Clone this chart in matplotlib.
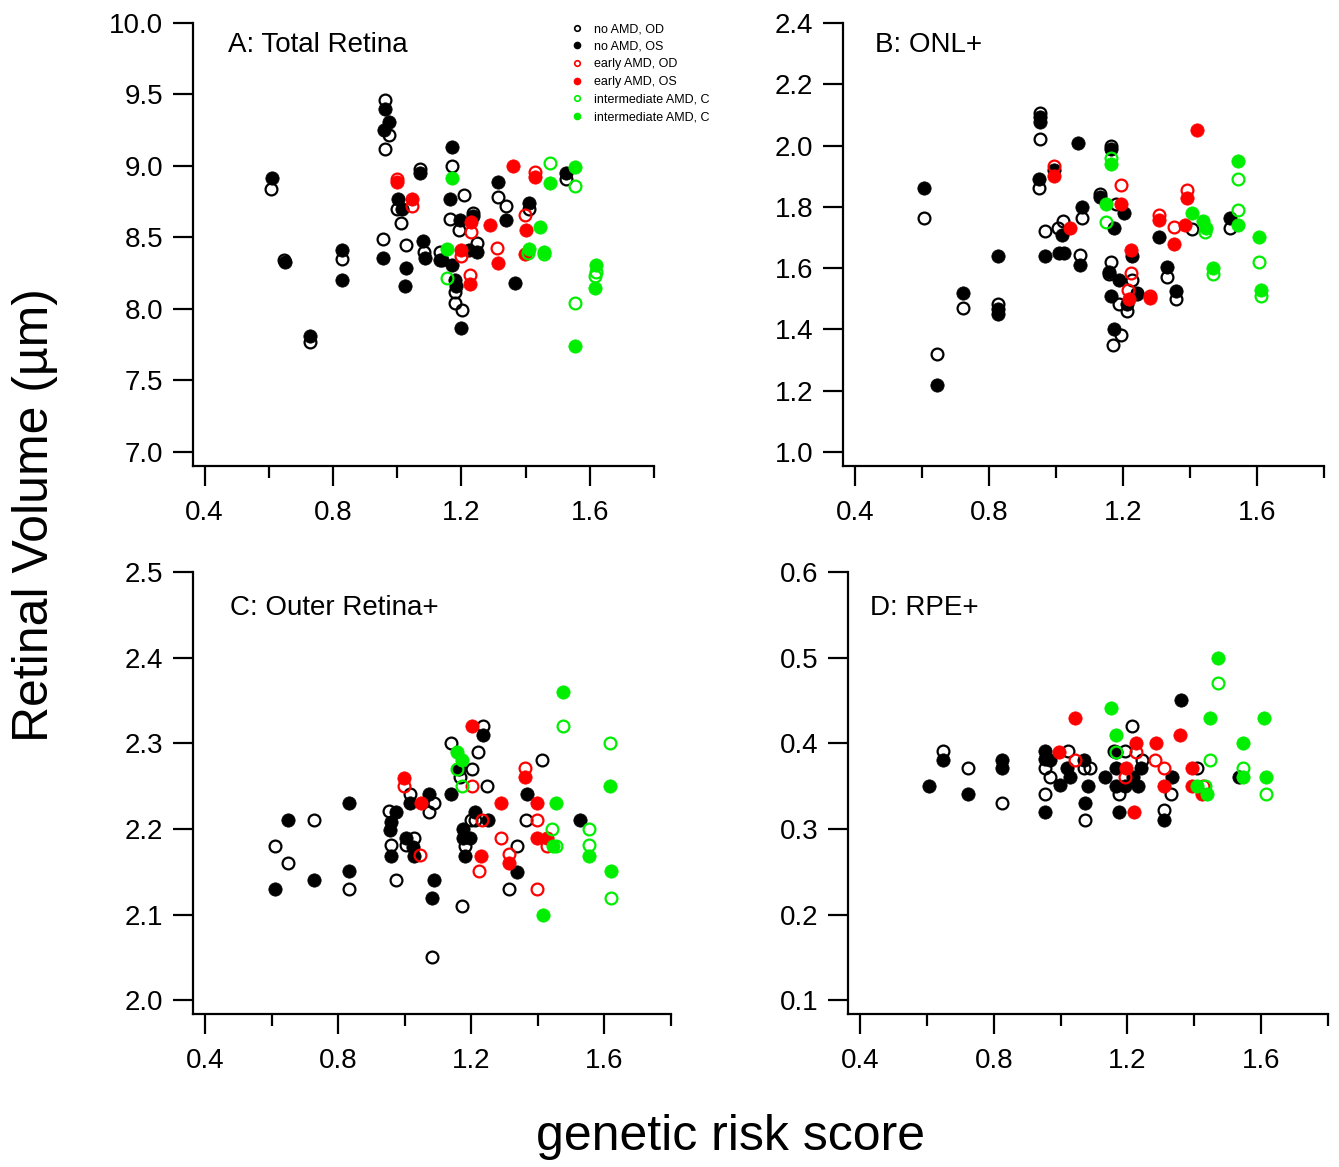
import matplotlib
matplotlib.use('Agg')
from matplotlib import pyplot as plt
from matplotlib.lines import Line2D

plt.rcParams['font.family'] = ['Liberation Sans', 'DejaVu Sans']

# legend labels (as printed, truncated in the original)
LABELS = ['no AMD, OD', 'no AMD, OS', 'early AMD, OD', 'early AMD, OS',
          'intermediate AMD, C', 'intermediate AMD, C']
COLORS = ['black', 'black', '#ff0000', '#ff0000', '#00ee00', '#00ee00']
FILLED = [False, True, False, True, False, True]

# ---- A: Total Retina ----
A_NO_OD_X = [0.961, 0.973, 0.961, 0.608, 1.072, 1.0, 1.013, 0.955, 1.028, 1.083, 1.132, 0.649, 0.829, 0.727,
             1.170, 1.207, 1.165, 1.194, 1.236, 1.314, 1.338, 1.527, 1.412, 1.25, 1.179, 1.179, 1.202]
A_NO_OD_Y = [9.46, 9.22, 9.12, 8.84, 8.98, 8.70, 8.60, 8.49, 8.45, 8.40, 8.40, 8.34, 8.35, 7.77,
             9.0, 8.80, 8.63, 8.55, 8.67, 8.785, 8.72, 8.91, 8.70, 8.46, 8.12, 8.04, 7.99]
A_NO_OS_X = [0.961, 0.973, 0.959, 0.610, 1.072, 1.002, 1.015, 0.955, 1.028, 1.023, 1.080, 1.088, 1.132, 0.650,
             0.829, 0.829, 0.727, 1.170, 1.165, 1.197, 1.236, 1.314, 1.338, 1.527, 1.412, 1.225, 1.25, 1.139,
             1.172, 1.179, 1.182, 1.2, 1.366]
A_NO_OS_Y = [9.40, 9.31, 9.25, 8.914, 8.95, 8.77, 8.70, 8.36, 8.29, 8.16, 8.475, 8.36, 8.34, 8.33,
             8.41, 8.20, 7.81, 9.13, 8.77, 8.62, 8.65, 8.89, 8.62, 8.95, 8.74, 8.41, 8.40, 8.34,
             8.31, 8.20, 8.16, 7.87, 8.18]
A_EARLY_OD_X = [0.998, 1.046, 1.229, 1.428, 1.399, 1.311, 1.2, 1.226]
A_EARLY_OD_Y = [8.907, 8.72, 8.54, 8.96, 8.66, 8.43, 8.37, 8.24]
A_EARLY_OS_X = [0.998, 1.046, 1.231, 1.290, 1.360, 1.428, 1.40, 1.397, 1.314, 1.2, 1.226]
A_EARLY_OS_Y = [8.89, 8.77, 8.61, 8.59, 9.0, 8.92, 8.55, 8.385, 8.32, 8.41, 8.175]
A_INT_OD_X = [1.475, 1.553, 1.407, 1.456, 1.155, 1.618, 1.615, 1.553]
A_INT_OD_Y = [9.02, 8.86, 8.39, 8.385, 8.215, 8.26, 8.23, 8.04]
A_INT_OS_X = [1.170, 1.477, 1.553, 1.444, 1.412, 1.456, 1.155, 1.62, 1.615, 1.553]
A_INT_OS_Y = [8.914, 8.88, 8.99, 8.57, 8.42, 8.40, 8.42, 8.31, 8.15, 7.74]

# ---- B: ONL+ ----
B_NO_OD_X = [0.952, 0.952, 0.95, 0.607, 1.078, 1.022, 1.007, 0.967, 1.072, 0.723, 0.828, 0.646, 1.164, 1.131,
             1.18, 1.405, 1.518, 1.33, 1.358, 1.226, 1.241, 1.213, 1.188, 1.164, 1.159, 1.193, 1.171]
B_NO_OD_Y = [2.105, 2.02, 1.86, 1.762, 1.762, 1.754, 1.732, 1.72, 1.642, 1.47, 1.484, 1.32, 2.0, 1.843,
             1.81, 1.729, 1.73, 1.571, 1.50, 1.56, 1.52, 1.46, 1.484, 1.62, 1.58, 1.38, 1.35]
B_NO_OS_X = [0.952, 0.952, 1.066, 0.994, 0.95, 0.607, 1.078, 1.017, 0.967, 1.01, 1.024, 1.072, 0.828, 0.723,
             0.828, 0.828, 0.646, 1.164, 1.131, 1.203, 1.174, 1.518, 1.307, 1.33, 1.358, 1.228, 1.241, 1.213,
             1.164, 1.159, 1.189, 1.173]
B_NO_OS_Y = [2.094, 2.077, 2.009, 1.92, 1.89, 1.86, 1.80, 1.707, 1.64, 1.65, 1.65, 1.61, 1.64, 1.52,
             1.467, 1.45, 1.22, 1.99, 1.832, 1.78, 1.73, 1.762, 1.70, 1.603, 1.524, 1.64, 1.514, 1.484,
             1.51, 1.587, 1.56, 1.40]
B_EARLY_OD_X = [0.994, 1.193, 1.39, 1.306, 1.352, 1.28, 1.223, 1.216]
B_EARLY_OD_Y = [1.933, 1.87, 1.855, 1.773, 1.734, 1.51, 1.584, 1.527]
B_EARLY_OS_X = [0.994, 1.042, 1.42, 1.193, 1.392, 1.306, 1.385, 1.352, 1.28, 1.223, 1.219]
B_EARLY_OS_Y = [1.90, 1.731, 2.05, 1.808, 1.83, 1.758, 1.74, 1.68, 1.504, 1.66, 1.50]
B_INT_OD_X = [1.164, 1.544, 1.149, 1.445, 1.544, 1.606, 1.611, 1.468]
B_INT_OD_Y = [1.958, 1.89, 1.75, 1.718, 1.79, 1.62, 1.51, 1.58]
B_INT_OS_X = [1.164, 1.544, 1.149, 1.405, 1.438, 1.448, 1.544, 1.606, 1.611, 1.468]
B_INT_OS_Y = [1.94, 1.95, 1.808, 1.78, 1.754, 1.732, 1.74, 1.70, 1.53, 1.60]

# ---- C: Outer Retina+ ----
C_NO_OD_X = [1.016, 1.089, 1.073, 0.953, 1.028, 1.004, 0.959, 0.974, 1.081, 0.832, 0.727, 0.61, 0.648, 1.236,
             1.138, 1.219, 1.201, 1.166, 1.248, 1.413, 1.364, 1.338, 1.313, 1.2, 1.211, 1.181, 1.171]
C_NO_OD_Y = [2.241, 2.23, 2.22, 2.221, 2.19, 2.181, 2.181, 2.14, 2.051, 2.13, 2.21, 2.18, 2.16, 2.32,
             2.30, 2.29, 2.27, 2.261, 2.25, 2.28, 2.21, 2.18, 2.13, 2.21, 2.21, 2.18, 2.11]
C_NO_OS_X = [1.074, 1.016, 0.974, 0.959, 0.956, 1.004, 1.026, 0.959, 1.028, 1.089, 1.081, 0.832, 0.832, 0.65,
             0.61, 0.727, 1.236, 1.164, 1.366, 1.528, 1.338, 1.138, 1.211, 1.251, 1.176, 1.176, 1.196, 1.181]
C_NO_OS_Y = [2.241, 2.23, 2.22, 2.208, 2.199, 2.19, 2.179, 2.169, 2.168, 2.14, 2.12, 2.23, 2.151, 2.21,
             2.13, 2.14, 2.31, 2.27, 2.241, 2.21, 2.15, 2.241, 2.22, 2.21, 2.20, 2.19, 2.19, 2.169]
C_EARLY_OD_X = [0.999, 1.046, 1.201, 1.361, 1.398, 1.428, 1.289, 1.313, 1.398, 1.224, 1.231]
C_EARLY_OD_Y = [2.25, 2.17, 2.25, 2.271, 2.21, 2.18, 2.19, 2.171, 2.13, 2.151, 2.21]
C_EARLY_OS_X = [0.999, 1.048, 1.201, 1.361, 1.289, 1.398, 1.398, 1.428, 1.313, 1.228]
C_EARLY_OS_Y = [2.26, 2.23, 2.32, 2.261, 2.23, 2.23, 2.19, 2.19, 2.16, 2.169]
C_INT_OD_X = [1.476, 1.616, 1.621, 1.156, 1.171, 1.553, 1.444, 1.455, 1.553]
C_INT_OD_Y = [2.32, 2.30, 2.12, 2.27, 2.25, 2.20, 2.20, 2.18, 2.181]
C_INT_OS_X = [1.476, 1.616, 1.621, 1.414, 1.156, 1.171, 1.454, 1.446, 1.553]
C_INT_OS_Y = [2.36, 2.25, 2.151, 2.10, 2.29, 2.28, 2.23, 2.18, 2.169]

# ---- D: RPE+ ----
D_NO_OD_X = [1.022, 0.954, 0.969, 0.954, 0.648, 0.722, 0.826, 1.213, 1.159, 1.193, 1.243, 1.069, 1.089, 1.408,
             1.176, 1.331, 1.31, 1.074]
D_NO_OD_Y = [0.391, 0.371, 0.361, 0.341, 0.391, 0.371, 0.33, 0.42, 0.391, 0.391, 0.38, 0.371, 0.371, 0.371,
             0.341, 0.341, 0.322, 0.31]
D_NO_OS_X = [0.952, 0.952, 0.969, 1.019, 1.029, 0.999, 0.954, 0.648, 0.605, 0.722, 0.826, 0.826, 1.361, 1.166,
             1.069, 1.166, 1.241, 1.134, 1.218, 1.333, 1.533, 1.083, 1.166, 1.193, 1.231, 1.074, 1.175, 1.31]
D_NO_OS_Y = [0.391, 0.382, 0.38, 0.371, 0.361, 0.351, 0.32, 0.38, 0.35, 0.341, 0.381, 0.371, 0.45, 0.39,
             0.38, 0.371, 0.371, 0.361, 0.361, 0.361, 0.361, 0.35, 0.35, 0.35, 0.35, 0.33, 0.32, 0.31]
D_EARLY_OD_X = [1.042, 1.225, 1.283, 1.308, 1.193, 1.426]
D_EARLY_OD_Y = [0.38, 0.39, 0.38, 0.371, 0.361, 0.35]
D_EARLY_OS_X = [1.042, 0.994, 1.356, 1.225, 1.285, 1.196, 1.393, 1.308, 1.393, 1.423, 1.22]
D_EARLY_OS_Y = [0.43, 0.39, 0.41, 0.40, 0.40, 0.371, 0.371, 0.35, 0.35, 0.341, 0.32]
D_INT_OD_X = [1.471, 1.448, 1.546, 1.433, 1.616, 1.166]
D_INT_OD_Y = [0.471, 0.38, 0.371, 0.35, 0.341, 0.39]
D_INT_OS_X = [1.471, 1.151, 1.448, 1.61, 1.166, 1.546, 1.546, 1.616, 1.408, 1.438]
D_INT_OS_Y = [0.50, 0.441, 0.43, 0.43, 0.41, 0.40, 0.361, 0.361, 0.35, 0.341]

W, H = 1339, 1167
fig = plt.figure(figsize=(W / 100, H / 100), dpi=100)

panels = [
    # (left, right, top, bottom) in pixels, ylim, yticks, title, title pos, series
    ((193, 654, 23, 466), (6.902, 10.0), [7.0, 7.5, 8.0, 8.5, 9.0, 9.5, 10.0], 'A: Total Retina', (228, 45),
     [(A_NO_OD_X, A_NO_OD_Y), (A_NO_OS_X, A_NO_OS_Y), (A_EARLY_OD_X, A_EARLY_OD_Y),
      (A_EARLY_OS_X, A_EARLY_OS_Y), (A_INT_OD_X, A_INT_OD_Y), (A_INT_OS_X, A_INT_OS_Y)]),
    ((843, 1324, 23, 466), (0.954, 2.4), [1.0, 1.2, 1.4, 1.6, 1.8, 2.0, 2.2, 2.4], 'B: ONL+', (875, 45),
     [(B_NO_OD_X, B_NO_OD_Y), (B_NO_OS_X, B_NO_OS_Y), (B_EARLY_OD_X, B_EARLY_OD_Y),
      (B_EARLY_OS_X, B_EARLY_OS_Y), (B_INT_OD_X, B_INT_OD_Y), (B_INT_OS_X, B_INT_OS_Y)]),
    ((193, 671, 572, 1014), (1.984, 2.5), [2.0, 2.1, 2.2, 2.3, 2.4, 2.5], 'C: Outer Retina+', (230, 608),
     [(C_NO_OD_X, C_NO_OD_Y), (C_NO_OS_X, C_NO_OS_Y), (C_EARLY_OD_X, C_EARLY_OD_Y),
      (C_EARLY_OS_X, C_EARLY_OS_Y), (C_INT_OD_X, C_INT_OD_Y), (C_INT_OS_X, C_INT_OS_Y)]),
    ((848, 1328, 572, 1014), (0.084, 0.6), [0.1, 0.2, 0.3, 0.4, 0.5, 0.6], 'D: RPE+', (870, 608),
     [(D_NO_OD_X, D_NO_OD_Y), (D_NO_OS_X, D_NO_OS_Y), (D_EARLY_OD_X, D_EARLY_OD_Y),
      (D_EARLY_OS_X, D_EARLY_OS_Y), (D_INT_OD_X, D_INT_OD_Y), (D_INT_OS_X, D_INT_OS_Y)]),
]

axes = []
for (l, r, t, b), ylim, yticks, title, (tx, ty), series in panels:
    ax = fig.add_axes([l / W, 1 - b / H, (r - l) / W, (b - t) / H])
    for (xs, ys), col, filled in zip(series, COLORS, FILLED):
        if filled:
            ax.plot(xs, ys, 'o', ms=9.6, mfc=col, mec=col, mew=0.5, ls='none', clip_on=False)
        else:
            ax.plot(xs, ys, 'o', ms=8.5, mfc='none', mec=col, mew=1.6, ls='none', clip_on=False)
    ax.set_xlim(0.364, 1.8)
    ax.set_ylim(*ylim)
    ax.set_xticks([0.4, 0.8, 1.2, 1.6])
    ax.set_xticks([0.6, 1.0, 1.4, 1.8], minor=True)
    ax.set_yticks(yticks)
    ax.set_yticklabels(['%.1f' % v for v in yticks])
    for s in ['top', 'right']:
        ax.spines[s].set_visible(False)
    for s in ['left', 'bottom']:
        ax.spines[s].set_linewidth(1.6)
    ax.tick_params(which='major', length=14.5, width=1.6, labelsize=20, direction='out')
    ax.tick_params(axis='y', pad=7)
    ax.tick_params(axis='x', pad=10)
    ax.tick_params(which='minor', length=8.5, width=1.6, direction='out')
    fig.text(tx / W, 1 - ty / H, title, fontsize=20, va='center', ha='left')
    axes.append(ax)

handles = []
for lab, col, filled in zip(LABELS, COLORS, FILLED):
    if filled:
        h = Line2D([], [], marker='o', ls='none', ms=4.5, mfc=col, mec=col, label=lab)
    else:
        h = Line2D([], [], marker='o', ls='none', ms=4, mfc='none', mec=col, mew=1.2, label=lab)
    handles.append(h)
axes[0].legend(handles=handles, loc='upper left', bbox_to_anchor=(571 / W, 1 - 23 / H),
               bbox_transform=fig.transFigure, frameon=False, fontsize=9, handlelength=1.0,
               handletextpad=0.85, labelspacing=0.45, borderpad=0, borderaxespad=0)

fig.text(35 / W, 1 - 515 / H, 'Retinal Volume (µm)', fontsize=36, rotation=90, ha='center', va='center')
fig.text(730 / W, 1 - 1137 / H, 'genetic risk score', fontsize=36, ha='center', va='center')

plt.savefig('out.png', dpi=100)
